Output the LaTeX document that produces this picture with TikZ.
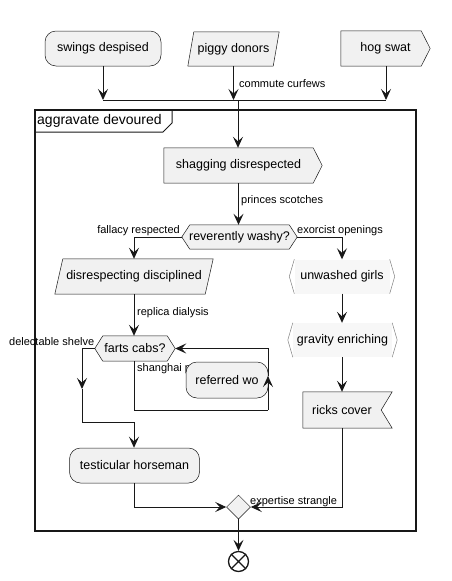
\documentclass[tikz,border=0pt]{standalone}
\usepackage{fontspec}
\setmainfont{Liberation Sans}
\usetikzlibrary{arrows.meta,calc,shapes.geometric}
\definecolor{nodefill}{HTML}{F1F1F1}
\definecolor{lc}{HTML}{181818}
\pgfdeclarelayer{bg}
\pgfsetlayers{bg,main}
\tikzset{
  base/.style={inner sep=0pt, font=\fontsize{12.5}{14}\selectfont, text=black},
  rbox/.style={base, draw=lc, line width=0.5pt, fill=nodefill, rounded corners=11pt},
  shp/.style={draw=lc, line width=0.5pt, fill=nodefill, line join=miter},
  brk/.style={draw=gray, line width=0.5pt},
  wire/.style={draw=lc, line width=1pt},
  arr/.style={draw=lc, line width=1pt, -{Stealth[length=11pt,width=10pt,inset=4.5pt]}},
  lbl/.style={font=\fontsize{11}{13}\selectfont, inner sep=0pt, anchor=west},
}
\begin{document}
\begin{tikzpicture}[x=1pt,y=-1pt]
\useasboundingbox (0,0) rectangle (451,581);

% frame
\draw[line width=1.5pt, draw=lc] (35,110) rectangle (416,531);
\draw[line width=1pt, draw=lc] (35,132) -- (163,132) -- (172,123) -- (172,110);
\node[anchor=west, inner sep=0pt, font=\fontsize{14}{16}\selectfont] (title) at (37,121) {aggravate devoured};

% nodes
\node[rbox, minimum width=116pt, minimum height=35pt] (sw) at (103,48.5) {swings despised};
\node[base, minimum width=91pt, minimum height=34pt] (pg) at (233.5,49) {piggy donors};
\node[base, minimum width=89pt, minimum height=35pt] (hog) at (385.5,48.5) {hog swat};
\node[base, minimum width=149pt, minimum height=35pt] (sh) at (238.5,165.5) {shagging disrespected};
\node[base, minimum width=115pt, minimum height=24pt] (rw) at (239.5,237) {reverently washy?};
\node[base, minimum width=158pt, minimum height=35pt] (dd) at (134,276.5) {disrespecting disciplined};
\node[base, minimum width=80pt, minimum height=25pt] (fc) at (135,348.5) {farts cabs?};
\node[base, fill=white!97!black, minimum width=95pt, minimum height=34pt] (ug) at (342,276.5) {unwashed girls};
\node[base, fill=white!97!black, minimum width=99pt, minimum height=34pt] (gr) at (342.5,340) {gravity enriching};
\node[base, minimum width=78pt, minimum height=36pt] (rc) at (342,410) {ricks cover};
\node[rbox, minimum width=130pt, minimum height=35pt] (th) at (134.5,465.5) {testicular horseman};
\node[diamond, draw=lc, line width=0.5pt, fill=nodefill, inner sep=0pt, minimum width=24pt, minimum height=24pt] (dia) at (238.5,507) {};
\node[circle, draw=lc, line width=1.3pt, fill=white, inner sep=0pt, minimum size=20pt] (end) at (238.5,561.5) {};
\draw[line width=1.3pt, draw=lc] (end.north east) -- (end.south west) (end.north west) -- (end.south east);

% shapes behind the text
\begin{pgfonlayer}{bg}
\path[shp] ([xshift=6pt]pg.north west) -- (pg.north east) -- ([xshift=-6pt]pg.south east) -- (pg.south west) -- cycle;
\path[shp] (hog.north west) -- ([xshift=-9pt]hog.north east) -- (hog.east) -- ([xshift=-9pt]hog.south east) -- (hog.south west) -- cycle;
\path[shp] (sh.north west) -- (sh.north east) -- ([xshift=9pt]sh.east) -- (sh.south east) -- (sh.south west) -- cycle;
\path[shp] ([xshift=8pt]rw.north west) -- ([xshift=-8pt]rw.north east) -- (rw.east) -- ([xshift=-8pt]rw.south east) -- ([xshift=8pt]rw.south west) -- (rw.west) -- cycle;
\path[shp] ([xshift=8pt]dd.north west) -- (dd.north east) -- ([xshift=-8pt]dd.south east) -- (dd.south west) -- cycle;
\path[shp] ([xshift=8pt]fc.north west) -- ([xshift=-8pt]fc.north east) -- (fc.east) -- ([xshift=-8pt]fc.south east) -- ([xshift=8pt]fc.south west) -- (fc.west) -- cycle;
\path[shp] (rc.north west) -- ([xshift=11pt]rc.north east) -- (rc.east) -- ([xshift=11pt]rc.south east) -- (rc.south west) -- cycle;
\end{pgfonlayer}
\draw[brk] (ug.north west) -- ([xshift=-5pt]ug.west) -- (ug.south west);
\draw[brk] (ug.north east) -- ([xshift=5pt]ug.east) -- (ug.south east);
\draw[brk] (gr.north west) -- ([xshift=-5pt]gr.west) -- (gr.south west);
\draw[brk] (gr.north east) -- ([xshift=5pt]gr.east) -- (gr.south east);

% labels
\node[lbl] (l1) at (239,84) {commute curfews};
\node[lbl] (l2) at (241,201) {princes scotches};
\node[lbl, anchor=east] (l3) at (180,231) {fallacy respected};
\node[lbl] (l4) at (297,231) {exorcist openings};
\node[lbl] (l5) at (137,313) {replica dialysis};
\node[lbl] (l6) at (9,342) {delectable shelve};
\node[lbl] (l7) at (137,369) {shanghai p};
\node[lbl] (l8) at (250,502) {expertise strangle};

\node[rbox, minimum width=82pt, minimum height=36pt] (rwo) at (227,380) {referred wo};

% coordinates
\coordinate (barL) at (103,100);
\coordinate (barM) at (238,100);
\coordinate (barR) at (386,100);
\coordinate (m1) at (82,389);
\coordinate (j1) at (134,422);
\coordinate (lp) at (268,410);
\coordinate (m2) at (268,376);
\coordinate (j2) at (134,507);

% connectors
\draw[arr] (sw.south) -- (barL);
\draw[arr] (pg.south) -- (pg.south |- barM);
\draw[arr] (barR |- hog.south) -- (barR);
\draw[wire] (barL) -- (barR);
\draw[arr] (barM) -- (barM |- sh.north);
\draw[arr] (sh.south) -- (sh.south |- rw.north);
\draw[arr] (rw.west) -| (dd.north);
\draw[arr] (rw.east) -| (ug.north);
\draw[arr] (dd.south) -- (dd.south |- fc.north);
\draw[arr] (fc.west) -| (m1);
\draw[wire] (m1) |- (j1);
\draw[arr] (j1) -- (j1 |- th.north);
\draw[wire] (j1 |- fc.south) |- (lp);
\draw[arr] (lp) -- (m2);
\draw[arr] (m2) |- (fc.east);
\draw[arr] (ug.south) -- (ug.south |- gr.north);
\draw[arr] (ug.south |- gr.south) -- (rc.north);
\draw[wire] (th.south -| j2) -- (j2);
\draw[arr] (j2) -- (dia.west);
\draw[arr] (rc.south) |- (dia.east);
\draw[arr] (dia.south) -- (end.north);
\end{tikzpicture}
\end{document}
